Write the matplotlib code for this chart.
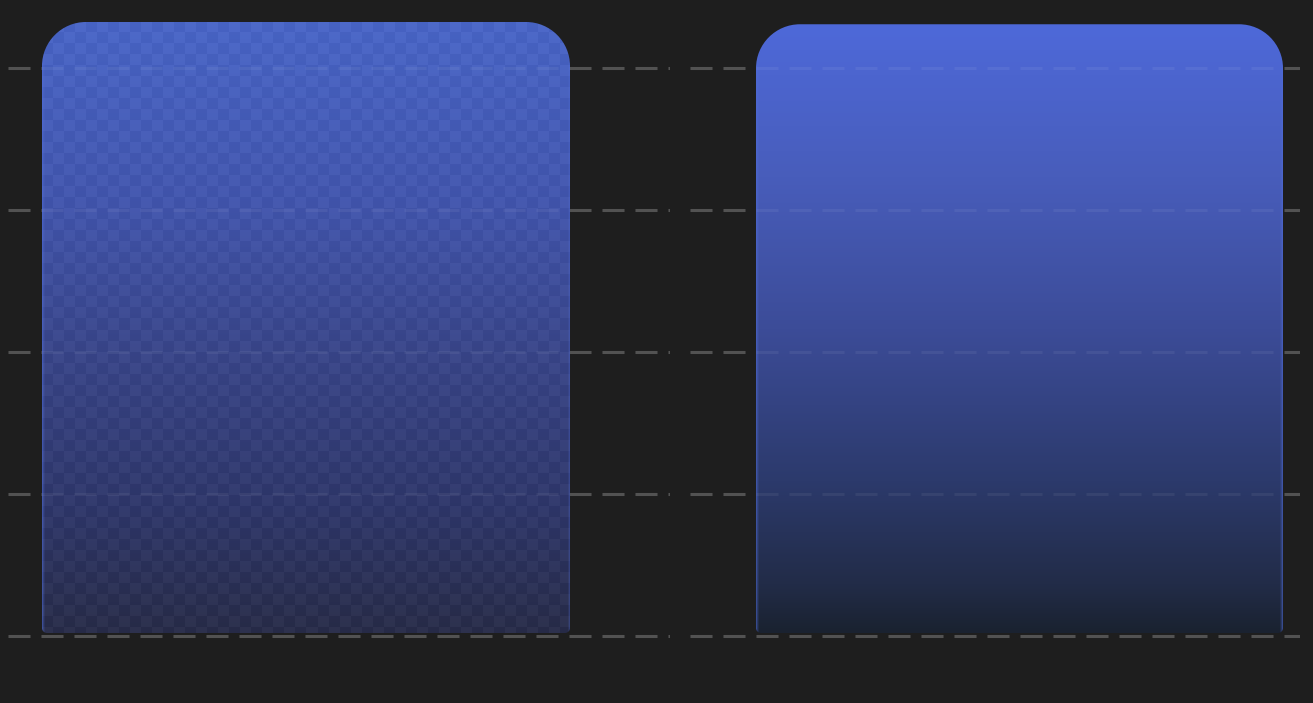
import numpy as np
import matplotlib
matplotlib.use('Agg')
import matplotlib.pyplot as plt
from matplotlib.path import Path
from matplotlib.patches import PathPatch
from matplotlib.colors import to_rgb

# ---- data ----
categories_left = ['A']
categories_right = ['B']
values_left = [108.1]
values_right = [107.7]
grid_ticks = [0, 25, 50, 75, 100]

BG = '#1e1e1e'
W, H = 1313, 703
fig = plt.figure(figsize=(W / 100, H / 100), dpi=100, facecolor=BG)

px_per_unit_y = 568 / 100.0
ylim = (-(H - 636) / px_per_unit_y, 636 / px_per_unit_y)

ax1 = fig.add_axes([8 / W, 0, 662 / W, 1])
ax2 = fig.add_axes([690 / W, 0, 610 / W, 1])

left_stops = [(0.0, '#4a66c6'), (0.3, '#4356ac'), (0.55, '#3a4688'),
              (0.8, '#30386a'), (1.0, '#2a2e4a')]
right_stops = [(0.0, '#4e69d9'), (0.25, '#485dbb'), (0.5, '#3c4c98'),
               (0.75, '#2c3a6c'), (0.92, '#222c48'), (1.0, '#1a2230')]

DASH = (0, (7.2, 3.6))


def gradient(stops, n):
    t = np.linspace(0, 1, n)
    pos = [s[0] for s in stops]
    cols = np.array([to_rgb(s[1]) for s in stops])
    return np.stack([np.interp(t, pos, cols[:, k]) for k in range(3)], axis=1)


def rounded_path(x0, x1, y0, y1, rx, ry, rbx, rby):
    k = 0.5523
    verts = [(x0, y0 + rby), (x0, y1 - ry),
             (x0, y1 - ry + k * ry), (x0 + rx - k * rx, y1), (x0 + rx, y1),
             (x1 - rx, y1),
             (x1 - rx + k * rx, y1), (x1, y1 - ry + k * ry), (x1, y1 - ry),
             (x1, y0 + rby),
             (x1, y0 + rby - k * rby), (x1 - rbx + k * rbx, y0), (x1 - rbx, y0),
             (x0 + rbx, y0),
             (x0 + rbx - k * rbx, y0), (x0, y0 + rby - k * rby), (x0, y0 + rby),
             (x0, y0 + rby)]
    codes = [Path.MOVETO, Path.LINETO,
             Path.CURVE4, Path.CURVE4, Path.CURVE4,
             Path.LINETO,
             Path.CURVE4, Path.CURVE4, Path.CURVE4,
             Path.LINETO,
             Path.CURVE4, Path.CURVE4, Path.CURVE4,
             Path.LINETO,
             Path.CURVE4, Path.CURVE4, Path.CURVE4,
             Path.CLOSEPOLY]
    return Path(verts, codes)


def setup(ax, cats, vals, xlim, stops, checker):
    ax.set_facecolor(BG)
    ax.set_xlim(*xlim)
    ax.set_ylim(*ylim)
    bars = ax.bar(range(len(cats)), vals, width=0.8, color='none', zorder=1)
    xspan = xlim[1] - xlim[0]
    px_per_unit_x = ax.get_position().width * W / xspan
    for rect in bars:
        x0 = rect.get_x()
        x1 = x0 + rect.get_width()
        y1 = rect.get_y() + rect.get_height()
        y0 = rect.get_y() + 3 / px_per_unit_y
        rx = 44 / px_per_unit_x
        ry = 44 / px_per_unit_y
        rbx = 5 / px_per_unit_x
        rby = 5 / px_per_unit_y
        path = rounded_path(x0, x1, y0, y1, rx, ry, rbx, rby)
        ncol = int(round((x1 - x0) * px_per_unit_x))
        nrow = int(round((y1 - y0) * px_per_unit_y))
        g = gradient(stops, nrow)
        img = np.repeat(g[:, None, :], ncol, axis=1)
        if checker:
            ii, jj = np.mgrid[0:nrow, 0:ncol]
            chk = ((ii // 11 + jj // 11) % 2) * 2 - 1
            img = np.clip(img + chk[:, :, None] * (3.5 / 255.0), 0, 1)
        # soft brighter side edges
        edge = np.array(to_rgb('#4f6cd8'))
        for c, a in ((0, 0.55), (1, 0.3), (2, 0.12)):
            img[:, c, :] = img[:, c, :] * (1 - a) + edge * a
            img[:, ncol - 1 - c, :] = img[:, ncol - 1 - c, :] * (1 - a) + edge * a
        im = ax.imshow(img, extent=(x0, x1, y0, y1), origin='upper',
                       aspect='auto', interpolation='nearest', zorder=2)
        clip = PathPatch(path, facecolor='none', edgecolor='none',
                         transform=ax.transData)
        ax.add_patch(clip)
        im.set_clip_path(clip)
        # faint gridlines visible through the bar
        ax.hlines(grid_ticks, xlim[0], xlim[1], colors='white', alpha=0.06,
                  lw=2.2, linestyles=DASH, zorder=3)
    ax.set_xlim(*xlim)
    ax.set_ylim(*ylim)
    ax.set_yticks(grid_ticks)
    ax.set_xticks([])
    ax.tick_params(left=False, labelleft=False)
    ax.set_axisbelow(True)
    ax.grid(axis='y', color='#484848', lw=2.2, linestyle=DASH)
    for s in ax.spines.values():
        s.set_visible(False)


setup(ax1, categories_left, values_left, (-0.4515, 0.5515), left_stops, True)
setup(ax2, categories_right, values_right, (-0.5002, 0.4258), right_stops, False)

fig.savefig('out.png', dpi=100, facecolor=BG)
